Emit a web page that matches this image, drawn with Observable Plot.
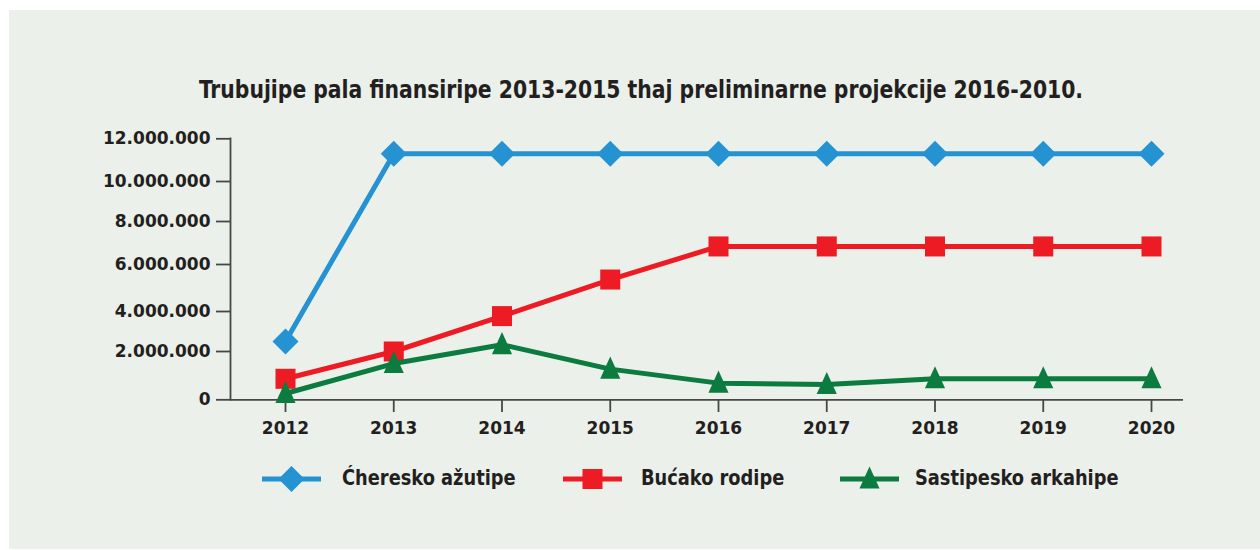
<!DOCTYPE html>
<html><head><meta charset="utf-8">
<script src="https://cdn.jsdelivr.net/npm/d3@7"></script>
<script src="https://cdn.jsdelivr.net/npm/@observablehq/plot@0.6"></script>
<style>
body{margin:0;background:#fff;}
#page{position:relative;width:1260px;height:550px;overflow:hidden;background:#fff;}
#panel{position:absolute;left:9px;top:10px;width:1251px;height:539px;background:#ebf0ea;}
#title{position:absolute;top:75px;left:641px;transform:translateX(-50%) scaleX(0.905);white-space:nowrap;font-weight:bold;font-size:25px;font-family:"Liberation Sans Narrow","DejaVu Sans Condensed",sans-serif;color:#231f20;line-height:30px;}
#chart{position:absolute;left:0;top:110px;}
.legsw{position:absolute;top:464px;}
.legtx{position:absolute;top:463px;line-height:30px;white-space:nowrap;font-weight:bold;font-size:22px;font-family:"Liberation Sans Narrow","DejaVu Sans Condensed",sans-serif;color:#231f20;transform:scaleX(0.9);transform-origin:left center;}
</style></head>
<body>
<div id="page">
  <div id="panel"></div>
  <div id="title">Trubujipe pala finansiripe 2013-2015 thaj preliminarne projekcije 2016-2010.</div>
  <div id="chart"></div>
</div>
<script>
// ---- data ----
const years = [2012, 2013, 2014, 2015, 2016, 2017, 2018, 2019, 2020];
const seriesNames = ["Ćheresko ažutipe", "Bućako rodipe", "Sastipesko arkahipe"];
const blueValues = [2500000, 11300000, 11300000, 11300000, 11300000, 11300000, 11300000, 11300000, 11300000];
const redValues = [870000, 2000000, 3770000, 5360000, 6840000, 6840000, 6840000, 6840000, 6840000];
const greenValues = [260000, 1500000, 2340000, 1270000, 690000, 630000, 870000, 870000, 870000];
const yTicks = [0, 2000000, 4000000, 6000000, 8000000, 10000000, 12000000];

// ---- style / layout ----
const seriesColors = ["#2592d1", "#ed1c24", "#0b7b3f"];
const yRange = [289.3, 241, 201, 154, 111, 71, 28.3];
const legendX = [[262, 342], [563, 641], [840, 915]];

const triangle = {
  draw(context, size) {
    const w = Math.sqrt(size) * 1.08, h = w * 1.1;
    context.moveTo(0, -0.57 * h);
    context.lineTo(w / 2, 0.43 * h);
    context.lineTo(-w / 2, 0.43 * h);
    context.closePath();
  }
};
const symbols = ["diamond2", "square", triangle];
const radii = [11.7, 11.3, 10.5];

const allValues = [blueValues, redValues, greenValues];
const data = [];
seriesNames.forEach((name, s) => {
  years.forEach((yr, i) => data.push({series: name, year: yr, value: allValues[s][i]}));
});

const locale = d3.formatLocale({thousands: ".", decimal: ",", grouping: [3], currency: ["", ""]});
const fmt = locale.format(",d");

const seriesMarks = [];
seriesNames.forEach((name, s) => {
  const d = data.filter(r => r.series === name);
  seriesMarks.push(Plot.line(d, {x: "year", y: "value", stroke: seriesColors[s], strokeWidth: 5}));
  seriesMarks.push(Plot.dot(d, {x: "year", y: "value", symbol: symbols[s], r: radii[s], fill: seriesColors[s], stroke: "none"}));
});

const chart = Plot.plot({
  width: 1260, height: 340,
  marginLeft: 230, marginRight: 77, marginTop: 28, marginBottom: 51,
  style: {background: "transparent", fontFamily: "DejaVu Sans", fontWeight: "bold", fontSize: "17px", color: "#231f20", overflow: "visible"},
  x: {type: "linear", domain: [2012, 2020], range: [285, 1151]},
  y: {type: "linear", domain: yTicks, range: yRange},
  marks: [
    Plot.ruleY([0], {stroke: "#474747", strokeWidth: 1.8}),
    Plot.frame({anchor: "left", stroke: "#474747", strokeWidth: 1.8}),
    Plot.axisX({ticks: years, tickFormat: d => String(d), tickSize: 13, tickPadding: 9, stroke: "#474747", strokeWidth: 1.8, label: null}),
    Plot.axisY({ticks: yTicks, tickFormat: fmt, tickSize: 14, tickPadding: 6, stroke: "#474747", strokeWidth: 1.8, label: null, style: {letterSpacing: "0.5px"}}),
    ...seriesMarks
  ]
});
document.getElementById("chart").appendChild(chart);

// ---- legend ----
const page = document.getElementById("page");
seriesNames.forEach((name, s) => {
  const sw = d3.create("svg").attr("class", "legsw").attr("width", 60).attr("height", 30)
    .style("left", legendX[s][0] + "px");
  sw.append("line").attr("x1", 0).attr("x2", 59).attr("y1", 15).attr("y2", 15)
    .attr("stroke", seriesColors[s]).attr("stroke-width", 5);
  const symType = typeof symbols[s] === "string"
    ? (symbols[s] === "diamond2" ? d3.symbolDiamond2 : d3.symbolSquare) : symbols[s];
  sw.append("path").attr("transform", "translate(29.5,15)")
    .attr("d", d3.symbol(symType, Math.PI * radii[s] * radii[s])())
    .attr("fill", seriesColors[s]);
  page.appendChild(sw.node());
  const tx = document.createElement("div");
  tx.className = "legtx";
  tx.style.left = legendX[s][1] + "px";
  tx.textContent = name;
  page.appendChild(tx);
});
</script>
</body></html>
